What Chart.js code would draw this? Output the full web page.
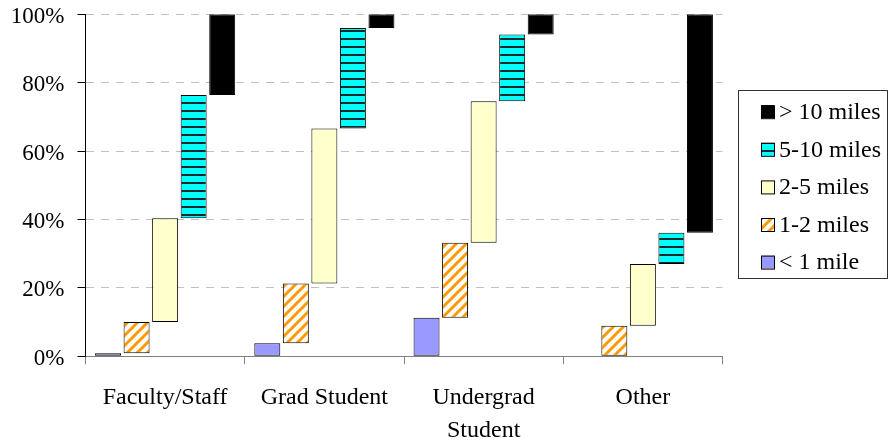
<!DOCTYPE html>
<html><head><meta charset="utf-8">
<script src="https://cdn.jsdelivr.net/npm/chart.js@4.4.0/dist/chart.umd.min.js"></script>
<style>html,body{margin:0;padding:0;background:#fff;} canvas{display:block;}</style>
</head><body>
<canvas id="c" width="889" height="442"></canvas>
<script>
// ---- data (percent share of each distance band, per group) ----
const categories = ['Faculty/Staff', 'Grad Student', ['Undergrad', 'Student'], 'Other'];
const seriesLabels = ['< 1 mile', '1-2 miles', '2-5 miles', '5-10 miles', '> 10 miles'];
const under1 = [0.9, 3.8, 11.3, 0];
const miles1to2 = [9.1, 17.5, 21.9, 8.9];
const miles2to5 = [30.4, 45.3, 41.4, 18.1];
const miles5to10 = [36.0, 29.4, 19.5, 9.1];
const over10 = [23.6, 4.0, 5.9, 63.9];
const yTicks = [0, 20, 40, 60, 80, 100];

const FONT = "'Liberation Serif', 'Times New Roman', serif";

function stripePattern() {
  const c = document.createElement('canvas'); c.width = 10; c.height = 10;
  const g = c.getContext('2d');
  g.fillStyle = '#ffffff'; g.fillRect(0, 0, 10, 10);
  g.strokeStyle = '#ff9900'; g.lineWidth = 3;
  g.beginPath();
  g.moveTo(-2, 12); g.lineTo(12, -2);
  g.moveTo(-7, 7); g.lineTo(7, -7);
  g.moveTo(3, 17); g.lineTo(17, 3);
  g.stroke();
  return g.createPattern(c, 'repeat');
}
function hLinePattern() {
  const c = document.createElement('canvas'); c.width = 8; c.height = 8;
  const g = c.getContext('2d');
  g.fillStyle = '#00ffff'; g.fillRect(0, 0, 8, 8);
  g.fillStyle = '#0d2b2b'; g.fillRect(0, 6, 8, 2);
  return g.createPattern(c, 'repeat');
}

const shares = [under1, miles1to2, miles2to5, miles5to10, over10];
const fills = ['#9999ff', stripePattern(), '#ffffcc', hLinePattern(), '#000000'];

const datasets = shares.map((arr, si) => ({
  label: seriesLabels[si],
  data: arr.map((v, ci) => {
    let start = 0;
    for (let k = 0; k < si; k++) start += shares[k][ci];
    return v > 0 ? [start, start + v] : null;
  }),
  backgroundColor: fills[si],
  borderColor: '#000000',
  borderWidth: 1,
  borderSkipped: false,
  categoryPercentage: 0.896,
  barPercentage: 0.91
}));

const boxLegend = {
  id: 'boxLegend',
  afterDraw(chart) {
    const ctx = chart.ctx;
    const x0 = 738.5, y0 = 90.5, w = 149, h = 188;
    ctx.save();
    ctx.strokeStyle = '#333333'; ctx.lineWidth = 1;
    ctx.strokeRect(x0, y0, w, h);
    ctx.font = '24px ' + FONT;
    ctx.textBaseline = 'middle';
    ctx.textAlign = 'left';
    const ds = chart.data.datasets.slice().reverse();
    ds.forEach((d, i) => {
      const cy = 111.7 + i * 37.6;
      ctx.fillStyle = d.backgroundColor;
      ctx.fillRect(761, cy - 6.5, 13, 13);
      ctx.strokeStyle = '#000'; ctx.lineWidth = 1;
      ctx.strokeRect(761.5, cy - 6, 13, 13);
      ctx.fillStyle = '#000';
      ctx.fillText(d.label, 779, cy + 1);
    });
    ctx.restore();
  }
};

new Chart(document.getElementById('c'), {
  type: 'bar',
  data: { labels: categories, datasets },
  options: {
    responsive: false,
    animation: false,
    devicePixelRatio: 1,
    layout: { padding: { top: 14.3, right: 166.5, left: 0, bottom: 0 } },
    plugins: { legend: { display: false }, tooltip: { enabled: false } },
    scales: {
      x: {
        grid: { offset: true, drawOnChartArea: false, drawTicks: true, tickLength: 8, tickColor: '#808080', tickWidth: 1 },
        border: { color: '#808080', width: 1 },
        ticks: { color: '#000', font: { family: FONT, size: 24, lineHeight: 1.38 }, padding: 17, maxRotation: 0, autoSkip: false },
        afterFit(s) { s.height = 85.7; }
      },
      y: {
        min: 0, max: 100,
        afterBuildTicks(s) { s.ticks = yTicks.map(v => ({ value: v })); },
        grid: {
          color: ctx => ctx.tick && ctx.tick.value === 0 ? 'rgba(0,0,0,0)' : '#c0c0c0',
          drawTicks: true, tickLength: 8, tickColor: '#000', tickWidth: 1, tickBorderDash: []
        },
        border: { color: '#000', width: 1, dash: [8, 7] },
        ticks: { color: '#000', font: { family: FONT, size: 23 }, padding: 13, labelOffset: 2.5, callback: v => v + '%' },
        afterFit(s) { s.width = 85.5; s.paddingTop = 0; s.paddingBottom = 0; }
      }
    }
  },
  plugins: [boxLegend]
});
</script>
</body></html>
